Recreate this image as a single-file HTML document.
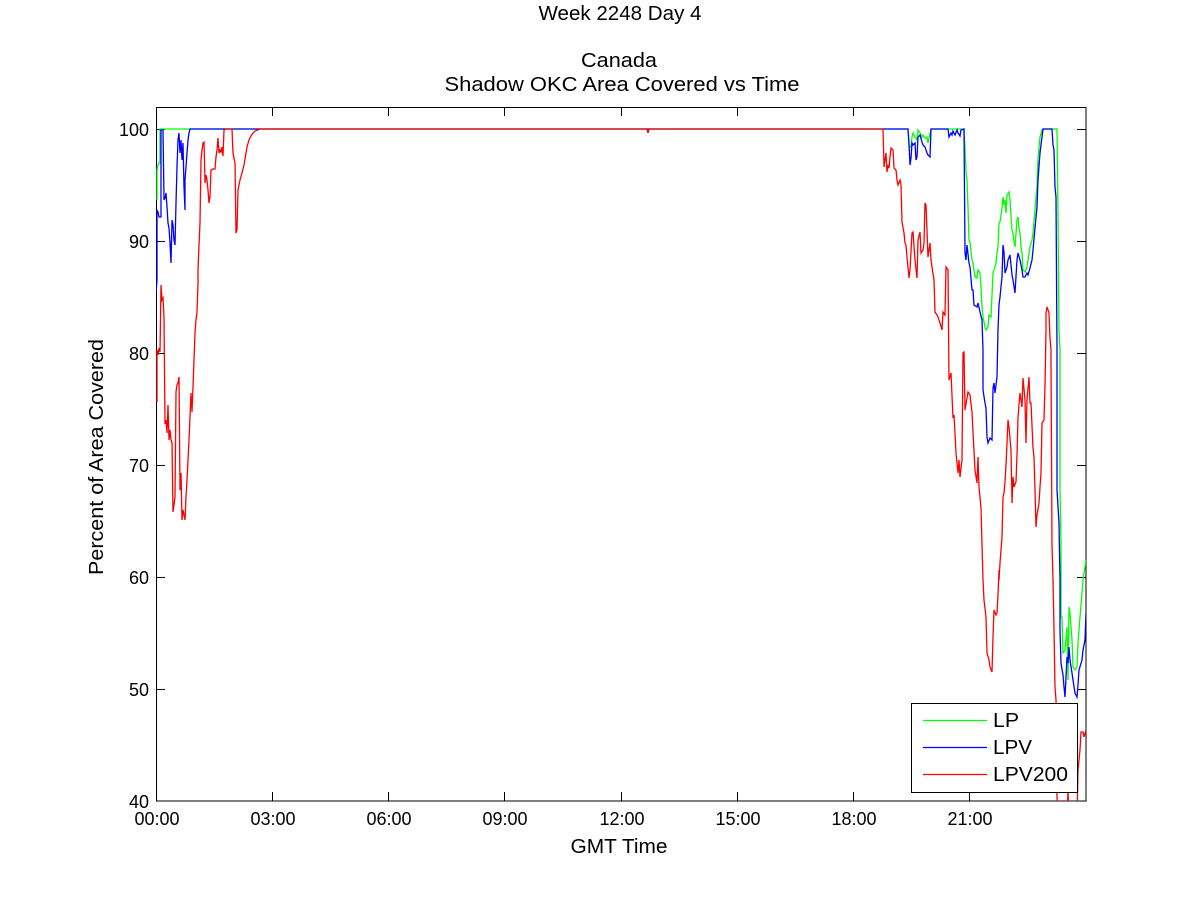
<!DOCTYPE html>
<html>
<head>
<meta charset="utf-8">
<style>
html,body{margin:0;padding:0;background:#fff;}
svg{display:block;}
text{font-family:"Liberation Sans",Arial,sans-serif;fill:#000;}
</style>
</head>
<body>
<svg width="1200" height="900" viewBox="0 0 1200 900" xmlns="http://www.w3.org/2000/svg">
<rect x="0" y="0" width="1200" height="900" fill="#fff"/>
<defs>
<clipPath id="pc"><rect x="156" y="107" width="930" height="694"/></clipPath>
</defs>

<!-- titles -->
<text x="620" y="20" font-size="20" text-anchor="middle" textLength="163" lengthAdjust="spacingAndGlyphs">Week 2248 Day 4</text>
<text x="619" y="67" font-size="20" text-anchor="middle" textLength="76" lengthAdjust="spacingAndGlyphs">Canada</text>
<text x="622" y="91" font-size="20" text-anchor="middle" textLength="355" lengthAdjust="spacingAndGlyphs">Shadow OKC Area Covered vs Time</text>

<!-- axes box -->
<rect x="156.5" y="107.5" width="929.5" height="693.5" fill="none" stroke="#000" stroke-width="1"/>

<!-- ticks -->
<g stroke="#000" stroke-width="1">
<line x1="272.5" y1="801" x2="272.5" y2="792"/><line x1="272.5" y1="107" x2="272.5" y2="116"/>
<line x1="388.5" y1="801" x2="388.5" y2="792"/><line x1="388.5" y1="107" x2="388.5" y2="116"/>
<line x1="504.5" y1="801" x2="504.5" y2="792"/><line x1="504.5" y1="107" x2="504.5" y2="116"/>
<line x1="621.5" y1="801" x2="621.5" y2="792"/><line x1="621.5" y1="107" x2="621.5" y2="116"/>
<line x1="737.5" y1="801" x2="737.5" y2="792"/><line x1="737.5" y1="107" x2="737.5" y2="116"/>
<line x1="853.5" y1="801" x2="853.5" y2="792"/><line x1="853.5" y1="107" x2="853.5" y2="116"/>
<line x1="969.5" y1="801" x2="969.5" y2="792"/><line x1="969.5" y1="107" x2="969.5" y2="116"/>
<line x1="156" y1="129.5" x2="165" y2="129.5"/><line x1="1086" y1="129.5" x2="1077" y2="129.5"/>
<line x1="156" y1="241.5" x2="165" y2="241.5"/><line x1="1086" y1="241.5" x2="1077" y2="241.5"/>
<line x1="156" y1="353.5" x2="165" y2="353.5"/><line x1="1086" y1="353.5" x2="1077" y2="353.5"/>
<line x1="156" y1="465.5" x2="165" y2="465.5"/><line x1="1086" y1="465.5" x2="1077" y2="465.5"/>
<line x1="156" y1="577.5" x2="165" y2="577.5"/><line x1="1086" y1="577.5" x2="1077" y2="577.5"/>
<line x1="156" y1="689.5" x2="165" y2="689.5"/><line x1="1086" y1="689.5" x2="1077" y2="689.5"/>
</g>

<!-- y tick labels -->
<g font-size="18" text-anchor="end">
<text x="149" y="136">100</text>
<text x="149" y="248">90</text>
<text x="149" y="360">80</text>
<text x="149" y="472">70</text>
<text x="149" y="584">60</text>
<text x="149" y="696">50</text>
<text x="149" y="808">40</text>
</g>
<!-- x tick labels -->
<g font-size="18" text-anchor="middle">
<text x="157" y="825">00:00</text>
<text x="273" y="825">03:00</text>
<text x="389" y="825">06:00</text>
<text x="505" y="825">09:00</text>
<text x="622" y="825">12:00</text>
<text x="738" y="825">15:00</text>
<text x="854" y="825">18:00</text>
<text x="970" y="825">21:00</text>
</g>
<text x="619" y="853" font-size="20" text-anchor="middle" textLength="97" lengthAdjust="spacingAndGlyphs">GMT Time</text>
<text transform="translate(103,457) rotate(-90)" font-size="20" text-anchor="middle" textLength="236" lengthAdjust="spacingAndGlyphs">Percent of Area Covered</text>

<g clip-path="url(#pc)" fill="none" stroke-width="1.3" stroke-linejoin="miter">
<!-- LP green -->
<polyline stroke="#00ff00" points="157,200 157,170 158,165 159,163 160,163 160,129 908,129 909,147 911,147 912,137 913,133 915,137 917,140 918,130 920,133 922,137 923,135 925,138 927,137 928,143 930,133 931,129 964,129 965,148 966,172 967,180 968,207 969,240 970,242 972,260 973,263 975,277 977,278 978,270 980,273 981,287 982,307 983,317 985,327 986,330 988,327 989,315 991,317 993,273 994,270 996,263 997,253 998,247 999,223 1000,222 1002,208 1003,197 1004,205 1005,200 1006,213 1007,195 1009,192 1010,200 1012,230 1013,233 1014,242 1015,247 1017,220 1018,217 1019,228 1020,233 1021,247 1022,253 1023,270 1025,272 1027,267 1028,260 1030,247 1032,240 1033,233 1035,210 1037,185 1038,158 1040,137 1042,130 1043,129 1057,129 1058,215 1059,330 1060,350 1060,490 1061,540 1061,617 1062,617 1063,653 1065,650 1067,627 1068,680 1069,607 1070,613 1072,640 1073,667 1075,670 1077,667 1078,643 1080,617 1082,593 1083,580 1085,567 1086,560"/>
<!-- LPV blue -->
<polyline stroke="#0000ff" points="156,293 157,280 157,210 158,212 159,217 160,217 161,217 161,130 163,130 164,200 165,198 166,193 167,207 168,223 169,228 170,243 171,263 172,220 173,225 174,240 175,245 176,203 177,167 178,140 179,133 180,153 181,140 182,160 183,143 184,187 185,210 185,180 186,167 187,153 188,140 189,133 190,129 908,129 909,143 910,165 911,158 912,143 913,145 915,143 916,160 917,157 918,137 920,135 922,142 923,145 925,147 927,153 928,155 930,157 931,129 948,129 949,137 951,133 952,135 953,131 955,135 957,130 958,133 960,136 961,130 964,129 965,253 966,260 967,245 969,263 970,267 972,290 973,290 974,305 977,307 978,303 980,312 982,320 983,350 983,390 985,403 986,408 987,437 988,443 990,438 992,440 993,388 994,383 995,393 997,377 998,330 999,305 1000,297 1002,277 1003,245 1004,252 1005,273 1007,267 1008,260 1010,255 1012,275 1013,280 1015,293 1017,260 1018,253 1020,260 1022,270 1023,277 1025,277 1027,273 1028,275 1030,268 1032,260 1033,250 1035,228 1037,207 1038,180 1040,153 1042,137 1043,129 1052,129 1053,145 1054,150 1055,187 1056,197 1057,350 1057,490 1059,523 1060,580 1060,630 1061,663 1063,675 1064,687 1065,697 1067,657 1068,663 1069,647 1070,660 1072,673 1073,680 1075,693 1077,697 1078,685 1079,670 1082,660 1083,650 1085,640 1086,613"/>
<!-- LPV200 red -->
<polyline stroke="#ff0000" points="157,402 157,350 158,355 159,348 160,352 161,285 162,300 163,298 164,317 165,424 166,420 167,433 168,405 169,440 170,430 171,440 172,443 173,512 174,505 175,497 176,392 177,385 178,383 179,377 180,490 181,473 182,520 183,510 184,515 185,520 186,497 187,480 188,460 189,440 190,417 191,393 192,412 193,387 194,360 195,332 196,320 197,312 198,283 198,270 199,245 200,223 201,160 202,150 203,143 204,142 205,183 206,175 207,180 208,190 209,203 210,197 211,170 213,169 215,169 216,157 217,150 218,138 219,153 220,150 221,152 222,147 223,156 224,130 226,129 232,129 233,153 235,163 236,233 237,230 238,190 239,185 240,180 242,173 244,165 246,153 247,147 249,140 251,136 253,133 255,131 260,129 647,129 648,133 649,129 883,129 884,167 885,160 886,153 887,172 888,165 889,168 890,157 891,148 893,150 894,168 896,170 897,180 898,185 900,180 901,185 902,222 904,233 905,243 906,245 907,257 909,278 910,270 912,233 913,232 915,260 917,278 918,240 920,232 921,253 923,250 924,243 925,203 926,205 928,257 930,243 931,260 932,267 934,280 935,312 937,315 938,317 940,323 942,330 943,312 945,315 946,267 948,270 949,380 951,373 953,418 954,415 956,453 958,473 959,460 960,477 962,460 963,353 964,352 965,410 967,398 968,392 970,395 972,412 973,432 975,470 977,483 978,457 979,487 981,508 982,545 983,580 984,600 986,617 987,653 989,660 990,667 992,672 993,637 994,610 996,615 997,613 998,595 999,570 999,580 1000,563 1002,537 1003,497 1004,493 1005,482 1006,465 1007,443 1008,420 1009,427 1011,450 1012,503 1013,477 1014,487 1016,482 1017,455 1018,417 1020,393 1022,407 1023,378 1025,400 1026,443 1027,400 1029,377 1030,403 1031,403 1033,448 1034,457 1035,490 1036,527 1037,515 1039,503 1040,487 1041,473 1042,423 1044,420 1045,385 1046,330 1046,313 1047,307 1048,310 1049,313 1050,338 1051,350 1051,363 1052,545 1053,580 1054,630 1055,687 1056,700 1057,797 1058,820 1067,820 1068,790 1069,820 1077,820 1078,770 1080,750 1081,732 1083,732 1084,737 1086,730"/>
</g>

<!-- legend -->
<rect x="911.5" y="703.5" width="166" height="89" fill="#fff" stroke="#000" stroke-width="1"/>
<line x1="923" y1="720.5" x2="987" y2="720.5" stroke="#00ff00" stroke-width="1.3"/>
<line x1="923" y1="747.5" x2="987" y2="747.5" stroke="#0000ff" stroke-width="1.3"/>
<line x1="923" y1="774.5" x2="987" y2="774.5" stroke="#ff0000" stroke-width="1.3"/>
<g font-size="20">
<text x="993" y="727" textLength="26" lengthAdjust="spacingAndGlyphs">LP</text>
<text x="993" y="754" textLength="39" lengthAdjust="spacingAndGlyphs">LPV</text>
<text x="993" y="781" textLength="75" lengthAdjust="spacingAndGlyphs">LPV200</text>
</g>
</svg>
</body>
</html>
